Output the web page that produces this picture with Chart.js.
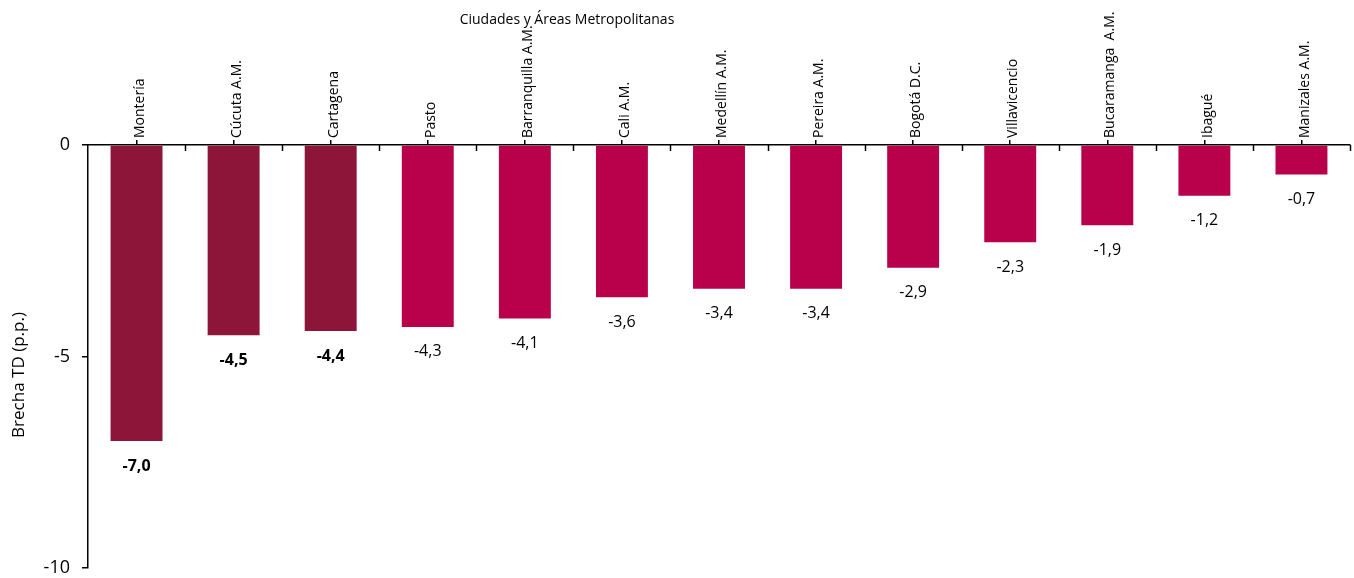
<!DOCTYPE html>
<html>
<head>
<meta charset="utf-8">
<script src="https://cdn.jsdelivr.net/npm/chart.js@4"></script>
<style>
  html, body { margin: 0; padding: 0; background: #fff; }
  #wrap { width: 1354px; height: 578px; }
</style>
</head>
<body>
<div id="wrap"><canvas id="c" width="1354" height="578"></canvas></div>
<script>
const categories = ["Montería", "Cúcuta A.M.", "Cartagena", "Pasto", "Barranquilla A.M.", "Cali A.M.", "Medellín A.M.", "Pereira A.M.", "Bogotá D.C.", "Villavicencio", "Bucaramanga  A.M.", "Ibagué", "Manizales A.M."];
const brecha = [-7.0, -4.5, -4.4, -4.3, -4.1, -3.6, -3.4, -3.4, -2.9, -2.3, -1.9, -1.2, -0.7];
const destacado = [true, true, true, false, false, false, false, false, false, false, false, false, false];
const yTicks = [0, -5, -10];
const titleText = "Ciudades y Áreas Metropolitanas";
const yTitle = "Brecha TD (p.p.)";

const DARK = "#8C1539";
const BRIGHT = "#B8004B";
const FONT = "'Open Sans', 'Noto Sans', sans-serif";

const extras = {
  id: 'extras',
  afterDraw(chart) {
    const ctx = chart.ctx;
    const xs = chart.scales.x;
    const top = chart.chartArea.top;
    ctx.save();
    // boundary ticks (downward)
    ctx.strokeStyle = '#000';
    ctx.lineWidth = 1.5;
    for (let i = 0; i < categories.length; i++) {
      const px = Math.round(xs.getPixelForValue(i + 0.5)) + 0.5;
      ctx.beginPath();
      ctx.moveTo(px, top);
      ctx.lineTo(px, top + 6);
      ctx.stroke();
    }
    // value labels
    const meta = chart.getDatasetMeta(0);
    ctx.fillStyle = '#000';
    ctx.textAlign = 'center';
    ctx.textBaseline = 'middle';
    meta.data.forEach((bar, i) => {
      ctx.font = (destacado[i] ? 'bold ' : '') + '16px ' + FONT;
      ctx.fillText(brecha[i].toFixed(1).replace('.', ','), bar.x, bar.y + 25);
    });
    // top title
    ctx.font = '14px ' + FONT;
    ctx.fillText(titleText, 567, 20);
    // y axis title
    ctx.translate(19, 375);
    ctx.rotate(-Math.PI / 2);
    ctx.font = '17px ' + FONT;
    ctx.fillText(yTitle, 0, 0);
    ctx.restore();
  }
};

new Chart(document.getElementById('c'), {
  type: 'bar',
  data: {
    labels: categories,
    datasets: [{
      data: brecha,
      backgroundColor: destacado.map(d => d ? DARK : BRIGHT),
      borderWidth: 0,
      barPercentage: 0.535,
      categoryPercentage: 1.0
    }]
  },
  options: {
    responsive: false,
    animation: false,
    devicePixelRatio: 1,
    layout: { padding: { top: 0, right: 4, bottom: 10, left: 0 } },
    plugins: { legend: { display: false }, tooltip: { enabled: false }, title: { display: false } },
    scales: {
      x: {
        position: 'top',
        offset: true,
        grid: { drawOnChartArea: false, offset: false, tickLength: 5, color: '#000', lineWidth: 1.5 },
        border: { color: '#000', width: 1.5 },
        ticks: { color: '#000', font: { family: FONT, size: 14 }, minRotation: 90, maxRotation: 90, autoSkip: false, padding: 2, labelOffset: 20 },
        afterFit(s) { s.height = 145; s.paddingLeft = 0; s.paddingRight = 0; }
      },
      y: {
        min: -10,
        max: 0,
        afterBuildTicks(s) { s.ticks = yTicks.map(v => ({ value: v })); },
        grid: { drawOnChartArea: false, tickLength: 6, color: '#000', lineWidth: 1.5 },
        border: { color: '#000', width: 1.5 },
        ticks: { color: '#000', font: { family: FONT, size: 18 }, padding: 12, callback: v => String(v) },
        title: { display: false },
        afterFit(s) { s.width = 88; s.paddingTop = 0; s.paddingBottom = 10; }
      }
    }
  },
  plugins: [extras]
});
</script>
</body>
</html>
